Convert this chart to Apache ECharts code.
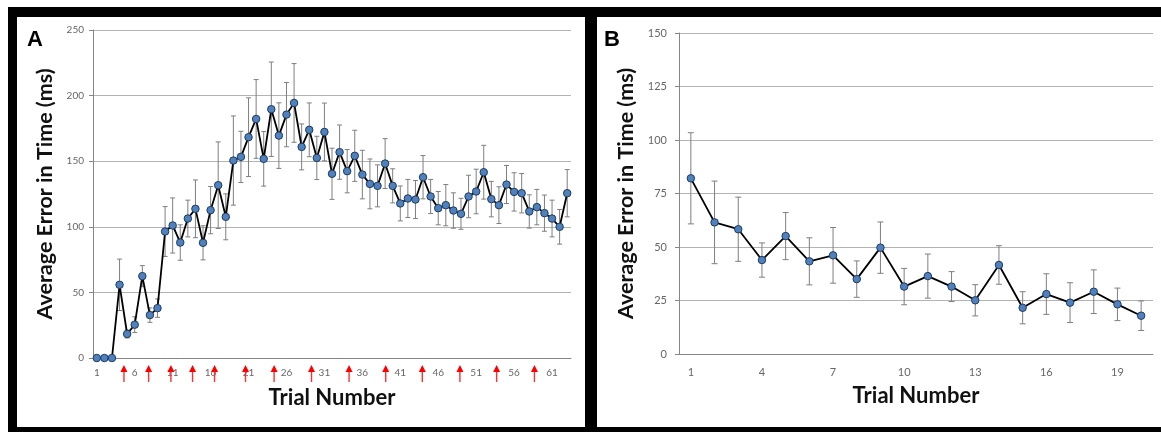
<!DOCTYPE html>
<html lang="en">
<head>
<meta charset="UTF-8">
<title>Average Error in Time</title>
<script src="https://cdn.jsdelivr.net/npm/echarts@6/dist/echarts.min.js"></script>
<style>
  body { margin: 0; background: #fff; }
  .frame { position: absolute; left: 8px; top: 7px; width: 1153px; height: 425px; background: #000; }
  .panel { position: absolute; top: 17px; height: 410px; background: #fff; }
  #chartA { left: 17px; width: 568px; }
  #chartB { left: 597px; width: 564px; }
</style>
</head>
<body>
<div class="frame"></div>
<div id="chartA" class="panel"></div>
<div id="chartB" class="panel"></div>
<script>
// panel A: 63 trials
const trialsA = Array.from({length: 63}, (_, i) => String(i + 1));
const meanA = [0, 0, 0, 55.8, 18.3, 25.4, 62.4, 32.7, 38, 96.4,
  101, 88, 106.3, 113.7, 87.8, 112.7, 131.7, 107.6, 150.5, 153.3,
  168.3, 182.2, 151.8, 189.6, 169.5, 185.5, 194.4, 160.9, 173.9, 152.5,
  172.3, 140.4, 156.9, 142.4, 154.1, 139.8, 132.7, 131.2, 148.2, 131.2,
  117.8, 121.6, 120.8, 137.8, 123.1, 114.2, 116.5, 112.4, 109.9, 123.1,
  126.9, 141.6, 121.1, 116.5, 132.2, 126.6, 125.6, 111.7, 115, 110.4,
  106.3, 100, 125.6];
const errA = [0, 0, 0, 19.6, 3, 6, 8, 5.5, 7, 19,
  21, 13.5, 14, 22, 13, 18, 33, 17.5, 34, 19.5,
  30, 30, 20.8, 36, 25, 24.5, 30, 17.5, 20.5, 16.5,
  22, 19.5, 20.7, 16.5, 19.5, 18.5, 19, 16, 19, 13,
  13.3, 14.5, 14.5, 16.5, 13, 12.7, 15.7, 13.5, 11.8, 16.2,
  17, 20.5, 13.5, 14, 14.5, 14.6, 15, 12.7, 13.5, 13.8,
  14, 13.2, 18];
// red arrows under the axis, in trial units
const arrowsA = [4.58, 7.83, 10.77, 13.62, 16.52, 20.6, 24.37, 29.3, 34.25, 39.08, 43.9, 48.86, 53.7, 58.68];
const yTicksA = {min: 0, max: 250, interval: 50};

// panel B: 20 trials
const trialsB = Array.from({length: 20}, (_, i) => String(i + 1));
const meanB = [82.1, 61.5, 58.3, 43.9, 55.1, 43.3, 46.1, 35, 49.7, 31.5,
  36.4, 31.5, 25.1, 41.6, 21.6, 28, 24, 29.1, 23.2, 17.9];
const errB = [21.3, 19.3, 15, 8, 11, 11, 13, 8.5, 12, 8.5,
  10.3, 7, 7.3, 9, 7.5, 9.5, 9.3, 10.2, 7.6, 6.9];
const yTicksB = {min: 0, max: 150, interval: 25};

const FONT = 'Lato';
const axisGray = '#868686';

function errorBars(capHalf) {
  return function (params, api) {
    const i = api.value(0), m = api.value(1), e = api.value(2);
    if (!e) return;
    const hi = api.coord([i, m + e]);
    const lo = api.coord([i, m - e]);
    const style = {stroke: '#7f7f7f', lineWidth: 1};
    return {
      type: 'group',
      children: [
        {type: 'line', shape: {x1: hi[0], y1: hi[1], x2: lo[0], y2: lo[1]}, style: style},
        {type: 'line', shape: {x1: hi[0] - capHalf, y1: hi[1], x2: hi[0] + capHalf, y2: hi[1]}, style: style},
        {type: 'line', shape: {x1: lo[0] - capHalf, y1: lo[1], x2: lo[0] + capHalf, y2: lo[1]}, style: style}
      ]
    };
  };
}

// small red arrow pointing up at the axis
function arrowItem(params, api) {
  const p = api.coord([api.value(0), 0]);
  const x = p[0], y = p[1];
  return {
    type: 'group',
    children: [
      {type: 'rect', shape: {x: x - 0.7, y: y + 12, width: 1.4, height: 12}, style: {fill: '#ff3030'}},
      {type: 'polygon', shape: {points: [[x, y + 7], [x - 3.5, y + 14], [x + 3.5, y + 14]]}, style: {fill: '#ff0000'}}
    ]
  };
}

function buildOption(cfg) {
  const xAxes = [{
    type: 'category',
    data: cfg.trials,
    boundaryGap: true,
    name: 'Trial Number',
    nameLocation: 'middle',
    nameGap: cfg.xNameGap,
    nameTextStyle: {fontFamily: FONT, fontSize: 22, fontWeight: 'bold', color: '#111'},
    axisLine: {lineStyle: {color: axisGray}},
    axisTick: {interval: 0, length: 4, lineStyle: {color: axisGray}},
    axisLabel: {interval: cfg.labelEvery - 1, fontFamily: FONT, fontSize: cfg.labelSize, color: '#666', margin: cfg.xLabelMargin},
    splitLine: {show: false}
  }];
  if (cfg.arrows) {
    xAxes.push({type: 'value', show: false, min: 0.5, max: cfg.trials.length + 0.5});
  }
  const series = [
    {
      type: 'custom',
      renderItem: errorBars(cfg.capHalf),
      data: cfg.mean.map((m, i) => [i, m, cfg.err[i]]),
      z: 1,
      silent: true
    },
    {
      type: 'line',
      data: cfg.mean,
      symbol: 'circle',
      symbolSize: 7.5,
      showAllSymbol: true,
      lineStyle: {color: '#000', width: 1.8},
      itemStyle: {color: '#4f81bd', borderColor: '#1f3a60', borderWidth: 1},
      z: 3
    }
  ];
  if (cfg.arrows) {
    series.push({
      type: 'custom',
      xAxisIndex: 1,
      renderItem: arrowItem,
      data: cfg.arrows.map(a => [a]),
      clip: false,
      silent: true,
      z: 4
    });
  }
  return {
    animation: false,
    title: {
      text: cfg.letter, left: cfg.letterLeft, top: 12, padding: 0,
      textStyle: {fontFamily: 'Liberation Sans', fontSize: 22, fontWeight: 'bold', color: '#000'}
    },
    grid: cfg.grid,
    xAxis: xAxes,
    yAxis: {
      type: 'value',
      min: cfg.yTicks.min, max: cfg.yTicks.max, interval: cfg.yTicks.interval,
      name: 'Average Error in Time (ms)',
      nameLocation: 'middle',
      nameGap: cfg.yNameGap,
      nameTextStyle: {fontFamily: FONT, fontSize: 21.5, fontWeight: 'bold', color: '#111'},
      axisLine: {show: true, lineStyle: {color: axisGray}},
      axisTick: {show: true, length: 4, lineStyle: {color: axisGray}},
      axisLabel: {fontFamily: FONT, fontSize: cfg.labelSize, color: '#666', margin: cfg.yLabelMargin},
      splitLine: {lineStyle: {color: '#b3b3b3'}}
    },
    series: series
  };
}

const chartA = echarts.init(document.getElementById('chartA'));
chartA.setOption(buildOption({
  letter: 'A', letterLeft: 10,
  trials: trialsA, mean: meanA, err: errA, arrows: arrowsA, yTicks: yTicksA,
  grid: {left: 76, top: 13, right: 14, bottom: 69},
  labelEvery: 5, labelSize: 10, capHalf: 2.5,
  xNameGap: 29, yNameGap: 35, xLabelMargin: 10, yLabelMargin: 9
}));

const chartB = echarts.init(document.getElementById('chartB'));
chartB.setOption(buildOption({
  letter: 'B', letterLeft: 7,
  trials: trialsB, mean: meanB, err: errB, arrows: null, yTicks: yTicksB,
  grid: {left: 82, top: 16, right: 8, bottom: 73},
  labelEvery: 3, labelSize: 11, capHalf: 3,
  xNameGap: 31, yNameGap: 41, xLabelMargin: 13, yLabelMargin: 12
}));
</script>
</body>
</html>
